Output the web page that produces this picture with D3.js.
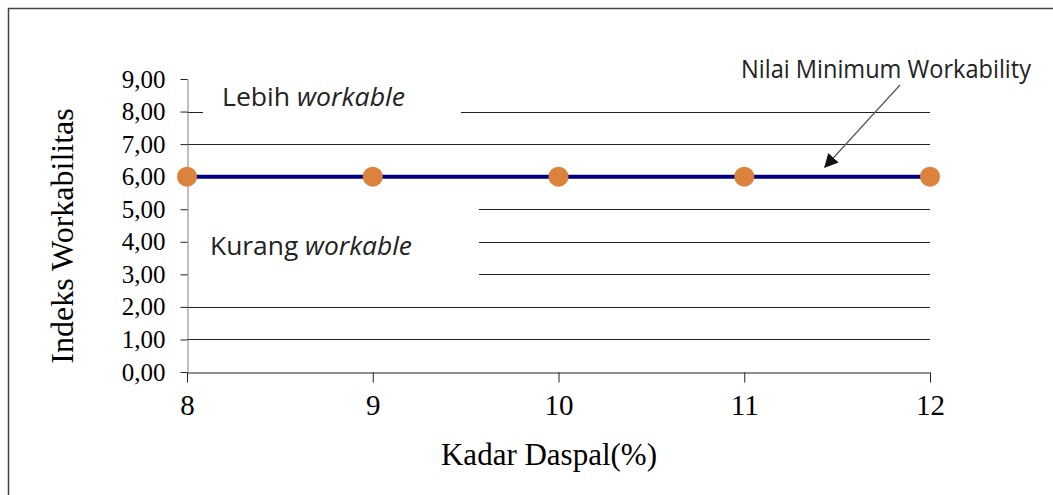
<!DOCTYPE html>
<html>
<head>
<meta charset="utf-8">
<script src="https://cdn.jsdelivr.net/npm/d3@7"></script>
<style>
  body { margin: 0; background: #fff; }
  svg { display: block; }
</style>
</head>
<body>
<div id="chart"></div>
<script>
// Indeks workabilitas vs kadar daspal
const kadar = [8, 9, 10, 11, 12];
const indeks = [6, 6, 6, 6, 6];
const yTicks = [0, 1, 2, 3, 4, 5, 6, 7, 8, 9];
const gridValues = [1, 2, 3, 4, 5, 6, 7, 8];

const width = 1053, height = 495;
const margin = {top: 79, right: 123, bottom: 123, left: 187};

const svg = d3.select("#chart").append("svg")
    .attr("width", width).attr("height", height);

// outer frame (only left and top edge are in view)
svg.append("rect")
    .attr("x", 8.5).attr("y", 8.5)
    .attr("width", 1200).attr("height", 700)
    .attr("fill", "white").attr("stroke", "#444").attr("stroke-width", 1.5);

let x = d3.scaleLinear()
    .domain([8, 12])
    .range([margin.left, width - margin.right]);
let y = d3.scaleLinear()
    .domain([0, 9])
    .range([height - margin.bottom, margin.top]);

// gridlines
svg.append("g").selectAll("line").data(gridValues).enter().append("line")
    .attr("x1", x(8)).attr("x2", x(12))
    .attr("y1", d => Math.round(y(d)) + 0.5).attr("y2", d => Math.round(y(d)) + 0.5)
    .attr("stroke", "#222").attr("stroke-width", 1);

// white text boxes on top of the grid
svg.append("rect").attr("x", x(8) + 16).attr("y", y(9) - 8)
    .attr("width", 258).attr("height", 44).attr("fill", "white");
svg.append("rect").attr("x", x(8)).attr("y", y(5) - 12)
    .attr("width", 292).attr("height", 80).attr("fill", "white");

// y axis
const yAxis = g => g
    .attr("transform", `translate(${x(8) + 0.5},0)`)
    .call(d3.axisLeft(y).tickValues(yTicks).tickSize(7).tickSizeOuter(0)
        .tickFormat(d => d3.format(".2f")(d).replace(".", ",")))
    .call(g => g.select(".domain").attr("stroke", "#808080"))
    .call(g => g.selectAll(".tick line").attr("stroke", "#222"))
    .call(g => g.selectAll(".tick text")
        .attr("x", -22)
        .attr("font-family", "'Liberation Serif', 'Times New Roman', serif")
        .attr("font-size", 25).attr("fill", "#000"));

// x axis
const xAxis = g => g
    .attr("transform", `translate(0,${Math.round(y(0)) + 0.5})`)
    .call(d3.axisBottom(x).tickValues(kadar).tickSize(10).tickSizeOuter(0).tickFormat(d3.format("d")))
    .call(g => g.select(".domain").attr("stroke", "#222"))
    .call(g => g.selectAll(".tick line").attr("stroke", "#222"))
    .call(g => g.selectAll(".tick text")
        .attr("y", 22)
        .attr("font-family", "'Liberation Serif', 'Times New Roman', serif")
        .attr("font-size", 29).attr("fill", "#000"));

svg.append("g").attr("id", "x_axis").call(xAxis);
svg.append("g").attr("id", "y_axis").call(yAxis);

// data line and markers
svg.append("path")
    .datum(kadar.map((k, i) => [k, indeks[i]]))
    .attr("fill", "none").attr("stroke", "#000080").attr("stroke-width", 4)
    .attr("d", d3.line().x(d => x(d[0])).y(d => y(d[1])));

svg.append("g").selectAll("circle").data(kadar).enter().append("circle")
    .attr("cx", d => x(d))
    .attr("cy", (d, i) => y(indeks[i]))
    .attr("r", 10)
    .attr("fill", "#DB823C");

// annotations
const sans = "'Open Sans', 'Noto Sans', sans-serif";
const lebih = svg.append("text").attr("x", 222).attr("y", 106)
    .attr("font-family", sans).attr("font-size", 25).attr("fill", "#222")
    .attr("textLength", 183).attr("lengthAdjust", "spacingAndGlyphs");
lebih.append("tspan").text("Lebih ");
lebih.append("tspan").attr("font-style", "italic").text("workable");

const kurang = svg.append("text").attr("x", 210).attr("y", 255)
    .attr("font-family", sans).attr("font-size", 25).attr("fill", "#222")
    .attr("textLength", 202).attr("lengthAdjust", "spacingAndGlyphs");
kurang.append("tspan").text("Kurang ");
kurang.append("tspan").attr("font-style", "italic").text("workable");

svg.append("text").attr("x", 741).attr("y", 78)
    .attr("font-family", sans).attr("font-size", 25).attr("fill", "#222")
    .attr("textLength", 290).attr("lengthAdjust", "spacingAndGlyphs")
    .text("Nilai Minimum Workability");

// arrow pointing at the line
svg.append("defs").append("marker")
    .attr("id", "head").attr("viewBox", "0 0 10 10")
    .attr("refX", 9).attr("refY", 5)
    .attr("markerWidth", 14).attr("markerHeight", 14)
    .attr("markerUnits", "userSpaceOnUse")
    .attr("orient", "auto")
    .append("path").attr("d", "M0,0 L10,5 L0,10 Z").attr("fill", "#111");

svg.append("line")
    .attr("x1", 900).attr("y1", 85)
    .attr("x2", 825).attr("y2", 167)
    .attr("stroke", "#555").attr("stroke-width", 1.2)
    .attr("marker-end", "url(#head)");

// axis labels
svg.append("text").attr("id", "x_label")
    .attr("x", 549).attr("y", 465)
    .attr("text-anchor", "middle")
    .attr("font-family", "'Liberation Serif', 'Times New Roman', serif")
    .attr("font-size", 31)
    .text("Kadar Daspal(%)");

svg.append("text").attr("id", "y_label")
    .attr("transform", "rotate(-90)")
    .attr("x", -236).attr("y", 73)
    .attr("text-anchor", "middle")
    .attr("font-family", "'Liberation Serif', 'Times New Roman', serif")
    .attr("font-size", 32)
    .text("Indeks Workabilitas");
</script>
</body>
</html>
